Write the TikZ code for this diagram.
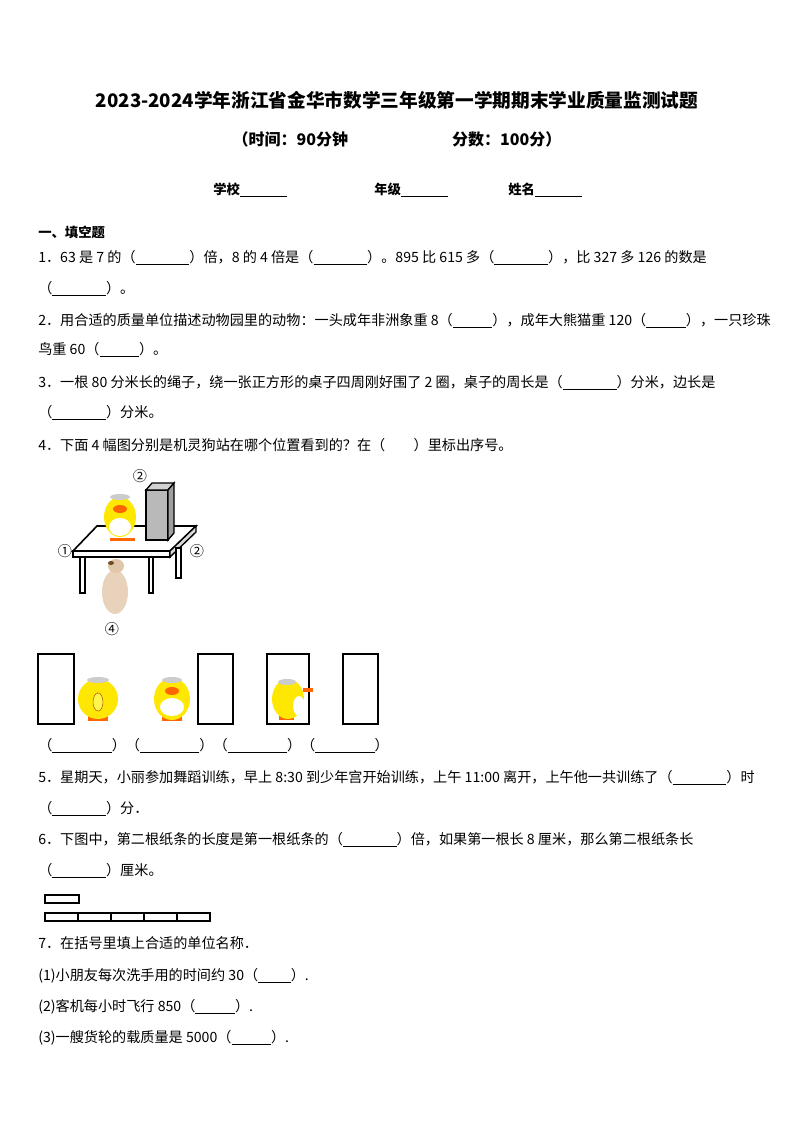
\documentclass[tikz,border=0pt]{standalone}
\usepackage{fontspec}
\setmainfont{Noto Sans CJK SC}
\begin{document}
\begin{tikzpicture}[x=0.75pt,y=-0.75pt,
  txt/.style={anchor=west,inner sep=0,font=\fontsize{10.6}{12}\selectfont},
  lbl/.style={inner sep=0,font=\fontsize{10.6}{12}\selectfont},
  frame/.style={draw,line width=1.2pt}]
\useasboundingbox (0,0) rectangle (794,1123);
\fill[white] (0,0) rectangle (794,1123);
\node[inner sep=0,font=\fontsize{14}{16}\bfseries\selectfont] (title) at (397,100) {2023-2024学年浙江省金华市数学三年级第一学期期末学业质量监测试题};
\node[inner sep=0,font=\fontsize{12}{14}\bfseries\selectfont] (sub) at (397,139) {（时间：90分钟\hspace{6.5em}分数：100分）};
\node[lbl,font=\fontsize{10}{12}\bfseries\selectfont] (s1) at (250,190) {学校\underline{\hspace{3.5em}}};
\node[lbl,font=\fontsize{10}{12}\bfseries\selectfont] (s2) at (411,190) {年级\underline{\hspace{3.5em}}};
\node[lbl,font=\fontsize{10}{12}\bfseries\selectfont] (s3) at (545,190) {姓名\underline{\hspace{3.5em}}};
\node[txt,font=\fontsize{10}{12}\bfseries\selectfont] (h1) at (38,232) {一、填空题};
\node[txt] (q1a) at (38,258) {1．63 是 7 的（\underline{\hspace{3.8em}}）倍，8 的 4 倍是（\underline{\hspace{3.8em}}）。895 比 615 多（\underline{\hspace{3.8em}}），比 327 多 126 的数是};
\node[txt] (q1b) at (38,289) {（\underline{\hspace{3.8em}}）。};
\node[txt] (q2a) at (38,321) {2．用合适的质量单位描述动物园里的动物：一头成年非洲象重 8（\underline{\hspace{2.8em}}），成年大熊猫重 120（\underline{\hspace{2.8em}}），一只珍珠};
\node[txt] (q2b) at (38,350) {鸟重 60（\underline{\hspace{2.8em}}）。};
\node[txt] (q3a) at (38,383) {3．一根 80 分米长的绳子，绕一张正方形的桌子四周刚好围了 2 圈，桌子的周长是（\underline{\hspace{3.8em}}）分米，边长是};
\node[txt] (q3b) at (38,413) {（\underline{\hspace{3.8em}}）分米。};
\node[txt] (q4) at (38,445) {4．下面 4 幅图分别是机灵狗站在哪个位置看到的？在（\hspace{2em}）里标出序号。};
% table
\draw[line width=1.2pt,fill=white] (73,551)--(97,526)--(196,526)--(170,551)--cycle;
\draw[line width=1pt,fill=white] (73,551)--(170,551)--(170,557)--(73,557)--cycle;
\draw[line width=1pt,fill=gray!30] (170,551)--(196,526)--(196,532)--(170,557)--cycle;
\draw[line width=1pt,fill=white] (176,548) rectangle (181,578);
\draw[line width=1pt,fill=white] (80,557) rectangle (85,593);
\draw[line width=1pt,fill=white] (149,557) rectangle (153,593);
% box
\draw[line width=1pt,fill=gray!55] (146,490) rectangle (168,540);
\draw[line width=1pt,fill=gray!35] (146,490)--(152,483)--(174,483)--(168,490)--cycle;
\draw[line width=1pt,fill=gray!75] (168,490)--(174,483)--(174,533)--(168,540)--cycle;
% duck on table
\fill[orange!80!red] (110,538) rectangle (135,541);
\fill[yellow!90!orange] (120,517) ellipse (16 and 20);
\fill[white] (120,527) ellipse (11 and 9);
\fill[orange!80!red] (120,509) ellipse (7 and 4);
\fill[gray!40] (120,497) ellipse (10 and 3);
% dog
\fill[brown!35!white] (115,592) ellipse (13 and 22);
\fill[brown!45!white] (116,566) ellipse (8 and 7);
\fill[brown!60!black] (111,563) ellipse (3 and 2);
\node[lbl] (n2t) at (140,476) {②};
\node[lbl] (n1) at (65,551) {①};
\node[lbl] (n2r) at (197,551) {②};
\node[lbl] (n4) at (112,629) {④};
% bottom row
\draw[frame] (38,654) rectangle (74,724);
\draw[frame] (198,654) rectangle (233,724);
\draw[frame] (267,654) rectangle (309,724);
\draw[frame] (343,654) rectangle (378,724);
% duck back
\fill[orange!80!red] (88,716) rectangle (108,721);
\fill[yellow!90!orange] (98,699) ellipse (20 and 20);
\draw[orange!70!black,fill=yellow!70] (98,702) ellipse (5 and 9);
\fill[gray!40] (98,680) ellipse (11 and 3);
% duck front
\fill[orange!80!red] (162,716) rectangle (182,721);
\fill[yellow!90!orange] (172,699) ellipse (18 and 21);
\fill[white] (172,707) ellipse (12 and 9);
\fill[orange!80!red] (172,691) ellipse (7 and 4);
\fill[gray!40] (172,680) ellipse (10 and 3);
% duck side
\fill[orange!80!red] (279,716) rectangle (294,720);
\fill[yellow!90!orange] (288,699) ellipse (16 and 20);
\fill[white] (299,706) ellipse (6 and 10);
\fill[orange!80!red] (303,688) rectangle (313,692);
\fill[gray!40] (287,682) ellipse (9 and 3);
\node[txt] (b1) at (38,746) {（\underline{\hspace{4.2em}}）（\underline{\hspace{4.2em}}）（\underline{\hspace{4.2em}}）（\underline{\hspace{4.2em}}）};
\node[txt] (q5a) at (38,778) {5．星期天，小丽参加舞蹈训练，早上 8:30 到少年宫开始训练，上午 11:00 离开，上午他一共训练了（\underline{\hspace{3.8em}}）时};
\node[txt] (q5b) at (38,809) {（\underline{\hspace{3.8em}}）分．};
\node[txt] (q6a) at (38,840) {6．下图中，第二根纸条的长度是第一根纸条的（\underline{\hspace{3.8em}}）倍，如果第一根长 8 厘米，那么第二根纸条长};
\node[txt] (q6b) at (38,871) {（\underline{\hspace{3.8em}}）厘米。};
\draw[line width=1pt] (45,895) rectangle (79,903);
\draw[line width=1pt] (45,913) rectangle (210,921);
\foreach \x in {78,111,144,177} \draw[line width=1pt] (\x,913)--(\x,921);
\node[txt] (q7) at (38,943) {7．在括号里填上合适的单位名称．};
\node[txt] (q71) at (38,976) {(1)小朋友每次洗手用的时间约 30（\underline{\hspace{2.3em}}）.};
\node[txt] (q72) at (38,1007) {(2)客机每小时飞行 850（\underline{\hspace{2.8em}}）.};
\node[txt] (q73) at (38,1038) {(3)一艘货轮的载质量是 5000（\underline{\hspace{2.8em}}）.};
\end{tikzpicture}
\end{document}
